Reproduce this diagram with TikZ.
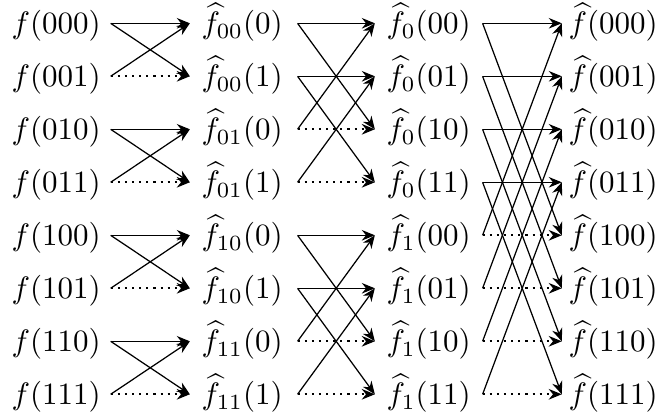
\documentclass[tikz,border=0pt]{standalone}
\usetikzlibrary{arrows.meta}

\begin{document}
\begin{tikzpicture}[x=0.3226pt,y=-0.3226pt,
  val/.style={anchor=west,inner xsep=0pt,text height=9.3pt,text depth=2.5pt},
  arrow/.style={-{Stealth[length=4.2pt,width=3.4pt]}},
  dots/.style={line width=.7pt,dash pattern=on .7pt off 1.6pt}]
\useasboundingbox (0,0) rectangle (660,419);
% the four columns of values
\foreach \p/\q/\r [count=\i] in {0/0/0,0/0/1,0/1/0,0/1/1,1/0/0,1/0/1,1/1/0,1/1/1}{
  \node[val](in\i) at (11,{23.3+53*(\i-1)}){$f(\p\q\r)$};
  \node[val](one\i) at (201,{23.3+53*(\i-1)}){$\widehat{f}_{\p\q}(\r)$};
  \node[val](two\i) at (386,{23.3+53*(\i-1)}){$\widehat{f}_{\p}(\q\r)$};
  \node[val](out\i) at (568,{23.3+53*(\i-1)}){$\widehat{f}(\p\q\r)$};
}
% butterflies of each stage
\foreach \src/\dst/\h/\ga/\gb/\lst in {in/one/1/3pt/3.6pt/{1,3,5,7},
    one/two/2/4.6pt/3.6pt/{1,2,5,6},two/out/4/3.6pt/2pt/{1,2,3,4}}{
  \foreach \i in \lst{
    \pgfmathtruncatemacro\j{\i+\h}
    \draw[arrow]([xshift=\ga]\src\i.east)--([xshift=-\gb]\dst\i.west);
    \draw[arrow]([xshift=\ga]\src\i.east)--([xshift=-\gb]\dst\j.west);
    \draw[arrow]([xshift=\ga]\src\j.east)--([xshift=-\gb]\dst\i.west);
    \draw[arrow,dots]([xshift=\ga]\src\j.east)--([xshift=-\gb]\dst\j.west);
  }
}
\end{tikzpicture}
\end{document}
